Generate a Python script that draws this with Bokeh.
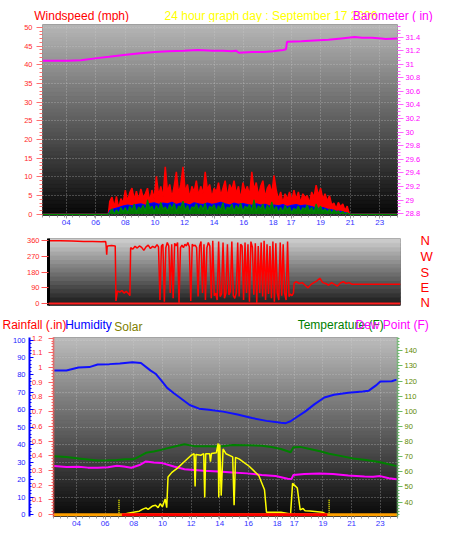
import numpy as np
from bokeh.plotting import figure
from bokeh.layouts import column
from bokeh.models import (Range1d, LinearAxis, FixedTicker, SingleIntervalTicker,
                          NumeralTickFormatter, Label, Grid, Span)
from bokeh.embed import file_html
from bokeh.resources import INLINE

SX = 440 / 456
SY = 531 / 547
FONT = "Liberation Sans"

# ---------------- data ----------------
hour_ticks = [1.6, 3.6, 5.6, 7.6, 9.6, 11.6, 13.6, 15.6, 16.8, 18.8, 20.8, 22.8]
hour_labels = ["04", "06", "08", "10", "12", "14", "16", "18", "17", "19", "21", "23"]

baro_t = [0.0, 0.9, 1.73, 2.6, 3.69, 4.5, 5.64, 6.6, 7.6, 8.5, 9.56, 10.5, 11.5, 12.2,
          12.8, 13.08, 13.27, 14.2, 14.97, 15.6, 16.27, 16.46, 16.53, 17.5, 18.4, 19.33,
          20.2, 21.1, 21.6, 22.27, 22.9, 23.2, 24.0]
baro_v = [31.05, 31.05, 31.05, 31.06, 31.09, 31.11, 31.14, 31.16, 31.18, 31.19, 31.20, 31.21,
          31.20, 31.20, 31.19, 31.20, 31.17, 31.18, 31.18, 31.19, 31.21, 31.22, 31.33, 31.34,
          31.35, 31.36, 31.38, 31.40, 31.39, 31.39, 31.38, 31.37, 31.38]

calm_before = 4.45
calm_after = 20.9
wind_start = 4.55
gust_step = 0.15
wind_gust = [3.5, 4.6, 2, 4.8, 1.5, 4.2, 3,
             6.5, 3.5, 5.8, 7, 4, 6.2, 3.8,
             6.8, 4.5, 5.5, 7, 3.5, 6.5, 4.2,
             10.2, 5, 7.5, 4.5, 12.7, 6, 8,
             4.5, 7.5, 11.4, 5.5, 8, 12.7, 6,
             8, 4.5, 7.5, 6, 9, 5, 7.5,
             5.5, 11.4, 6.5, 8, 4.5, 7, 6,
             8.5, 5, 7, 9, 4.5, 8, 6.5,
             9, 5.5, 7.5, 4, 8.5, 6, 7.5,
             5, 11.4, 6.5, 8.5, 5, 7.5, 9,
             4.5, 7, 8, 5.5, 10.4, 6.5, 4,
             6, 3, 5.5, 4, 6, 3.5, 6.5,
             4, 6, 3, 5.5, 4.5, 5, 3,
             6, 4.5, 7.8, 5, 7, 4, 5.5,
             3.5, 5, 2.5, 3, 1.5, 3.2, 2,
             2.8, 1, 2.2, 0]
avg_step = 0.3
wind_avg = [1.0, 1.5, 1.8, 2.2, 2.5, 2.3, 2.6, 2.8, 2.4, 2.9,
            3.1, 2.7, 3.0, 2.8, 3.2, 2.6, 3.0, 2.9, 2.5, 3.1,
            2.8, 2.6, 3.0, 2.7, 2.9, 3.2, 2.8, 2.5, 3.0, 2.7,
            2.9, 2.6, 2.4, 2.8, 2.5, 2.7, 2.2, 2.5, 2.3, 2.6,
            2.1, 2.4, 2.6, 2.3, 2.5, 2.2, 1.9, 1.6, 1.8, 1.4,
            1.2, 0.9, 0.8, 0.5, 0.0]
wind_low = [0.5, 1.5, 0, 1.2, 0.3, 1.8, 0.6,
            1.8, 0.4, 2.2, 1.0, 2.8, 0.5, 2.0,
            1.2, 2.5, 0.8, 3.9, 1.5, 2.2, 0.6,
            2.4, 1.0, 3.2, 1.4, 2.0, 0.8, 2.6,
            1.5, 2.9, 0.7, 2.2, 1.8, 3.5, 1.0,
            2.4, 0.6, 2.0, 1.6, 2.8, 0.9, 2.5,
            1.3, 3.0, 0.5, 2.2, 1.7, 2.6, 0.8,
            2.3, 1.2, 3.1, 0.6, 2.0, 1.5, 2.7,
            0.8, 2.4, 1.4, 3.0, 0.7, 2.2, 1.6,
            2.6, 1.0, 3.9, 0.8, 2.3, 1.5, 2.8,
            0.6, 2.5, 1.2, 3.3, 0.9, 2.1, 0.5,
            1.8, 0.7, 2.4, 1.1, 2.0, 0.4, 1.6,
            1.0, 2.2, 0.6, 1.8, 1.3, 2.5, 0.8,
            1.9, 0.5, 2.8, 1.0, 2.2, 0.7, 1.5,
            0.6, 1.4, 0.3, 1.2, 0.5, 0.9, 0.2,
            0.8, 0.1, 0.4, 0]

wd_t_a = [0.0, 0.05, 0.8, 1.6, 2.4, 3.0, 3.6, 3.9, 3.93, 3.97, 4.0, 4.03, 4.3, 4.55, 4.6,
          4.7, 4.85, 5.0, 5.15, 5.3, 5.45, 5.55, 5.6, 5.75, 5.9, 6.05, 6.2, 6.35, 6.5, 6.65,
          6.8, 6.95, 7.1, 7.25, 7.4, 7.5]
wd_v_a = [270, 360, 360, 358, 356, 356, 354, 355, 330, 280, 325, 330, 332, 330, 15,
          72, 65, 75, 60, 70, 58, 45, 320, 312, 328, 318, 330, 322, 305, 325,
          335, 315, 328, 320, 338, 325]
wd_osc_start = 7.6
wd_osc_step = 0.1
wd_osc = [20, 330, 340, 10, 320, 350, 330, 60,
          340, 30, 345, 330, 350, 5, 320,
          335, 320, 340, 330, 350, 325, 15, 340, 330, 335,
          320, 40, 330, 355, 60, 340, 20, 320, 350, 330,
          30, 360, 45, 60, 20, 355, 40, 55, 350, 30,
          60, 340, 50, 70, 355, 45, 30, 60, 350, 40,
          340, 330, 20, 350, 60, 340, 10, 355, 325, 50,
          345, 5, 330, 60, 350, 40, 360, 20, 340, 55,
          330, 30, 355, 10, 345, 60, 20, 350, 45, 340,
          60, 20, 355, 40]
wd_t_c = [16.5, 16.6, 16.7, 16.75, 16.9, 17.1, 17.3, 17.5, 17.7, 17.9, 18.1, 18.3, 18.5,
          18.7, 18.9, 19.1, 19.3, 19.5, 19.7, 19.9, 20.1, 20.3, 20.5, 20.7, 24.0]
wd_v_c = [55, 45, 60, 118, 125, 115, 120, 105, 90, 110, 120, 130, 145,
          120, 115, 105, 120, 110, 100, 118, 125, 115, 120, 110, 110]
compass_ticks = [0, 90, 180, 270, 360]
compass_labels = ["N", "E", "S", "W", "N"]

hum_t = [0.05, 0.9, 1.74, 2.5, 3.08, 3.9, 4.63, 5.5, 6.1, 6.78, 7.12, 7.5, 7.93, 8.4, 8.8,
         9.5, 10.16, 10.84, 11.83, 12.84, 13.85, 14.86, 15.87, 16.2, 16.54, 16.9, 17.55,
         18.22, 18.9, 19.57, 20.57, 21.58, 22.0, 22.5, 22.8, 23.6, 23.94]
hum_v = [82.5, 82.6, 84.3, 84.5, 86.0, 86.2, 86.6, 87.3, 86.8, 82.5, 80.7, 77.0, 72.6, 69.5,
         67.1, 62.8, 60.7, 60.1, 59.0, 57.4, 55.3, 53.7, 52.6, 52.4, 53.5, 55.5, 59.0, 63.3,
         67.1, 68.7, 69.8, 70.5, 71.0, 74.0, 76.2, 76.4, 77.3]

temp_t = [0.05, 0.9, 1.74, 2.4, 3.08, 3.8, 4.43, 5.0, 5.57, 6.0, 6.45, 7.0, 7.59, 8.1, 8.67,
          9.14, 9.81, 10.7, 11.63, 12.5, 13.5, 14.53, 15.2, 15.87, 16.54, 16.74, 17.21,
          17.88, 18.6, 19.23, 20.1, 20.91, 21.8, 22.8, 23.4, 23.94]
temp_v = [70.3, 69.8, 68.9, 68.2, 67.5, 67.6, 67.8, 68.4, 68.3, 70.2, 72.6, 73.4, 74.7, 76.0,
          77.2, 78.2, 77.0, 76.9, 76.8, 77.8, 77.6, 77.2, 76.4, 75.1, 73.0, 76.3, 76.5, 75.1,
          73.6, 72.0, 70.4, 68.9, 67.9, 66.4, 65.0, 63.8]

dew_t = [0.05, 0.9, 1.74, 2.4, 3.08, 3.8, 4.43, 4.9, 5.43, 6.0, 6.45, 7.0, 7.59, 8.4, 9.14,
         9.8, 10.48, 11.5, 12.5, 13.5, 14.53, 15.5, 16.34, 16.6, 16.74, 17.5, 18.55, 19.5,
         20.57, 21.7, 22.3, 22.8, 23.4, 23.94]
dew_v = [63.8, 63.2, 63.3, 62.8, 62.7, 63.0, 64.1, 63.6, 62.7, 64.5, 66.9, 66.2, 65.8, 63.5,
         61.7, 61.3, 60.7, 60.2, 59.6, 59.0, 58.0, 57.2, 55.5, 55.2, 58.0, 58.6, 59.0, 58.6,
         57.6, 57.0, 56.8, 57.2, 55.8, 55.1]

sol_t = [0.0, 4.77, 5.2, 5.57, 5.98, 6.2, 6.45, 6.6, 6.92, 7.12, 7.3, 7.45, 7.6, 7.79, 7.9,
         7.99, 8.26, 8.67, 9.14, 9.61, 9.81, 9.88, 9.94, 10.28, 10.48, 10.55, 10.62, 10.89,
         10.95, 11.02, 11.36, 11.49, 11.53, 11.6, 11.7, 11.83, 12.03, 12.5, 12.6, 12.7,
         12.97, 13.65, 14.32, 14.72, 14.86, 15.87, 16.54, 16.68, 17.01, 17.21, 17.41, 17.55,
         17.89, 18.76, 19.1, 24.0]
sol_v = [0, 0, 8, 14, 20, 30, 39, 30, 50, 54, 40, 63, 45, 90, 40,
         215, 242, 268, 304, 340, 349, 161, 345, 340, 349, 98, 348, 349,
         304, 350, 354, 408, 98, 402, 109, 376, 349, 331, 54, 328,
         318, 277, 224, 143, 14, 14, 4, 179, 152, 27, 35, 22,
         21, 14, 0, 0]
sun_events = [4.57, 19.23]
sun_marker = 90

rate_t = [0.0, 24.0]
rate_v = [0.0, 0.0]
rain_t = [4.77, 19.1]
rain_v = [0.0, 0.0]

title_top = ["Windspeed (mph)", "24 hour graph day : September 17 2006", "Barometer ( in)"]
title_bottom = ["Rainfall (.in)", "Humidity", "Solar", "Temperature (F)", "Dew Point (F)"]


# ---------------- helpers ----------------
def make_fig(h, y_range, left, right, top, bottom):
    return figure(width=440, height=h, x_range=Range1d(0, 24), y_range=y_range,
                  output_backend="svg", toolbar_location=None, frame_align=False,
                  min_border_left=left, min_border_right=right,
                  min_border_top=top, min_border_bottom=bottom,
                  border_fill_color="white", background_fill_color="black",
                  outline_line_color=None)


def title_fig(h):
    t = figure(width=440, height=h, x_range=Range1d(0, 440), y_range=Range1d(h, 0),
               x_axis_location=None, y_axis_location=None, output_backend="svg",
               toolbar_location=None, frame_align=False, min_border=0,
               min_border_left=0, min_border_right=0, min_border_top=0, min_border_bottom=0,
               outline_line_color=None,
               background_fill_color="white", border_fill_color="white")
    t.grid.visible = False
    return t


def gradient(p, top_rgb, bot_rgb, n):
    y0, y1 = p.y_range.start, p.y_range.end
    edges = np.linspace(y0, y1, n + 1)
    cols = []
    for k in range(n):
        f = (k + 0.5) / n
        c = tuple(int(round(b + (t - b) * f)) for t, b in zip(top_rgb, bot_rgb))
        cols.append("#%02x%02x%02x" % c)
    r = p.quad(left=p.x_range.start, right=p.x_range.end, bottom=edges[:-1], top=edges[1:],
               fill_color=cols, line_color=cols, line_width=1)
    r.level = "image"


def style_y(ax, color, tick_color, out, inn=0, minor_out=0, minor_in=0, standoff=2,
            size="7.5px", line_color=None, line_width=1, line_dash="solid"):
    ax.major_label_text_color = color
    ax.major_label_text_font = FONT
    ax.major_label_text_font_size = size
    ax.major_label_standoff = standoff
    ax.major_tick_line_color = tick_color
    ax.major_tick_out = out
    ax.major_tick_in = inn
    ax.minor_tick_line_color = tick_color
    ax.minor_tick_out = minor_out
    ax.minor_tick_in = minor_in
    ax.axis_line_color = line_color
    ax.axis_line_width = line_width
    ax.axis_line_dash = line_dash


def style_x(p):
    ax = p.xaxis[0]
    ax.ticker = FixedTicker(ticks=hour_ticks, minor_ticks=[k * 0.5 for k in range(49)])
    ax.major_label_overrides = dict(zip(hour_ticks, hour_labels))
    ax.major_label_text_color = "#3333ff"
    ax.major_label_text_font = FONT
    ax.major_label_text_font_size = "8px"
    ax.major_label_standoff = 1
    ax.axis_line_color = None
    ax.major_tick_line_color = "#9a9a9a"
    ax.major_tick_out = 3
    ax.major_tick_in = 0
    ax.minor_tick_line_color = "#9a9a9a"
    ax.minor_tick_out = 2
    ax.minor_tick_in = 0


def style_grid(g):
    g.grid_line_color = "#d0d0d0"
    g.grid_line_alpha = 0.55
    g.grid_line_dash = "1 2"
    g.grid_line_width = 1


def title(t, text, x, y, color, size="12px"):
    t.add_layout(Label(x=x, y=y, text=text, text_color=color, text_font=FONT,
                       text_font_size=size, text_baseline="alphabetic"))


# ---------------- title row 1 ----------------
t1 = title_fig(22)
title(t1, title_top[0], 35 * SX, 15, "#ff0000")
title(t1, title_top[1], 170 * SX, 15, "#ffff00")
title(t1, title_top[2], 365 * SX, 15, "#ff00ff")

# ---------------- panel 1: wind speed + barometer ----------------
p1 = make_fig(209, Range1d(-0.31, 50.8), 42, 43, 2, 16)
p1.extra_y_ranges = {"baro": Range1d(28.773, 31.585)}
gradient(p1, (182, 182, 182), (6, 6, 6), 48)

ya = p1.yaxis[0]
ya.ticker = SingleIntervalTicker(interval=5, num_minor_ticks=5)
style_y(ya, "#ff2a2a", "#ff7070", out=6, minor_out=3, standoff=4)
bax = LinearAxis(y_range_name="baro", ticker=SingleIntervalTicker(interval=0.2, num_minor_ticks=4),
                 formatter=NumeralTickFormatter(format="0.[0]"))
style_y(bax, "#ff00ff", "#ff66ff", out=6, minor_out=3, standoff=2)
p1.add_layout(bax, "right")
style_x(p1)
style_grid(p1.xgrid[0])
style_grid(p1.ygrid[0])
p1.ygrid[0].ticker = SingleIntervalTicker(interval=5)

gust_x = [0.0, calm_before] + [wind_start + i * gust_step for i in range(len(wind_gust))] + [calm_after, 24.0]
gust_y = [0, 0] + wind_gust + [0, 0]
avg_x = [0.0, calm_before] + [wind_start + i * avg_step for i in range(len(wind_avg))] + [calm_after, 24.0]
avg_y = [0, 0] + wind_avg + [0, 0]
low_x = [0.0, calm_before] + [wind_start + i * gust_step for i in range(len(wind_low))] + [calm_after, 24.0]
low_y = [0, 0] + wind_low + [0, 0]

p1.varea(x=gust_x, y1=0, y2=gust_y, fill_color="#ff0000")
p1.line(gust_x, gust_y, line_color="#ff0000", line_width=1.5)
p1.varea(x=avg_x, y1=0, y2=avg_y, fill_color="#0000dd")
p1.line(avg_x, avg_y, line_color="#0000ff", line_width=1.2)
p1.varea(x=low_x, y1=0, y2=low_y, fill_color="#007a00")
p1.line(low_x, low_y, line_color="#008800", line_width=1.2)
p1.line(baro_t, baro_v, y_range_name="baro", line_color="#ff00ff", line_width=2)

# ---------------- panel 2: wind direction ----------------
p2 = make_fig(78, Range1d(-11.1, 372.8), 48, 40, 7, 4)
gradient(p2, (208, 208, 208), (22, 22, 22), 16)
p2.xaxis.visible = False
p2.grid.visible = False
da = p2.yaxis[0]
da.ticker = FixedTicker(ticks=compass_ticks)
style_y(da, "#ff2a2a", "#ff5050", out=7, standoff=2, line_color="black", line_width=3)
cax = LinearAxis(ticker=FixedTicker(ticks=compass_ticks),
                 major_label_overrides=dict(zip(compass_ticks, compass_labels)))
style_y(cax, "#ff0000", None, out=0, standoff=20, size="13px")
p2.add_layout(cax, "right")

wd_t = wd_t_a + [wd_osc_start + i * wd_osc_step for i in range(len(wd_osc))] + wd_t_c
wd_v = wd_v_a + wd_osc + wd_v_c
p2.add_layout(Span(location=0, dimension="width", line_color="#ff2020", line_width=2))
p2.line(wd_t, wd_v, line_color="#ff0000", line_width=1.5)

# ---------------- title row 3 ----------------
t3 = title_fig(24)
title(t3, title_bottom[0], 2, 15.5, "#ff0000")
title(t3, title_bottom[1], 67 * SX, 15.5, "#0000ff")
title(t3, title_bottom[2], 118 * SX, 17, "#808000")
title(t3, title_bottom[3], 308 * SX, 15.5, "#008000")
title(t3, title_bottom[4], 355, 15.5, "#ff00ff")

# ---------------- panel 3: humidity / rain / temperature / solar ----------------
p3 = make_fig(198, Range1d(-0.0127, 1.204), 53, 43, 4, 15)
p3.extra_y_ranges = {"hum": Range1d(-1.07, 101.45), "temp": Range1d(30.5, 148.8),
                     "solar": Range1d(-10.7, 1014.5)}
gradient(p3, (188, 188, 188), (8, 8, 8), 48)

ra = p3.yaxis[0]
ra.ticker = SingleIntervalTicker(interval=0.1, num_minor_ticks=5)
ra.formatter = NumeralTickFormatter(format="0.[0]")
style_y(ra, "#ff2a2a", "#ff6060", out=5, minor_out=2, standoff=6,
        line_color="#ff5050", line_width=2, line_dash="1 1")
hax = LinearAxis(y_range_name="hum", ticker=SingleIntervalTicker(interval=10, num_minor_ticks=5))
style_y(hax, "#2222ff", "#0000ff", out=0, inn=4, minor_in=2, standoff=4,
        line_color="#0000ff", line_width=2)
p3.add_layout(hax, "left")
tax = LinearAxis(y_range_name="temp", ticker=SingleIntervalTicker(interval=10, num_minor_ticks=5))
style_y(tax, "#5f8a00", "#66bb66", out=5, minor_out=2, standoff=2,
        line_color="#70c070", line_width=2, line_dash="1 1")
p3.add_layout(tax, "right")
style_x(p3)
style_grid(p3.xgrid[0])
p3.ygrid[0].visible = False
hgrid = Grid(dimension=1, ticker=SingleIntervalTicker(interval=10), y_range_name="hum")
style_grid(hgrid)
p3.add_layout(hgrid, "center")

p3.line(temp_t, temp_v, y_range_name="temp", line_color="#008000", line_width=2)
p3.line(dew_t, dew_v, y_range_name="temp", line_color="#ff00ff", line_width=2)
p3.line(hum_t, hum_v, y_range_name="hum", line_color="#1010ff", line_width=2)
p3.line(sol_t, sol_v, y_range_name="solar", line_color="#ffff00", line_width=1.5)
p3.segment(x0=sun_events, y0=[0, 0], x1=sun_events, y1=[sun_marker, sun_marker],
           y_range_name="solar", line_color="#ffff00", line_width=1.5, line_dash="1 1")
p3.line(rate_t, rate_v, line_color="#ffa000", line_width=3)
p3.line(rain_t, rain_v, line_color="#ff0000", line_width=3)

layout = column(t1, p1, p2, t3, p3, spacing=0)
open("out.html", "w").write(file_html(layout, INLINE))
